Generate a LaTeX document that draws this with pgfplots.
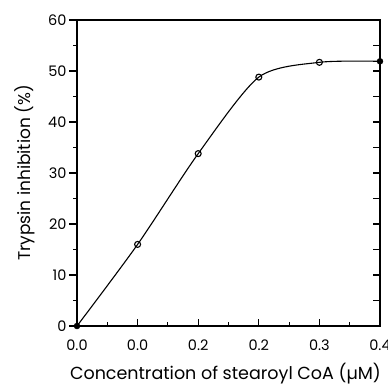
\documentclass[border=0pt]{standalone}
\usepackage{fontspec}
\setmainfont{Poppins}
\usepackage{pgfplots}
\pgfplotsset{compat=1.18}
\begin{document}
\begin{tikzpicture}
\pgfplotsset{
  common/.style={
    scale only axis, width=303pt, height=306pt,
    xmin=0, xmax=5, ymin=0, ymax=60,
    axis line style={line width=1.5pt},
  }
}
\begin{axis}[common,
  font=\fontsize{14.5}{16}\selectfont,
  /pgf/number format/assume math mode=true,
  tick align=outside,
  xtick={0,1,2,3,4,5}, xticklabels={0.0,0.0,0.2,0.2,0.3,0.4},
  x tick style={draw=none},
  xtick pos=lower, ytick pos=left,
  ytick={0,10,...,60}, minor y tick num=1,
  major tick length=8pt, minor tick length=4pt,
  tick style={line width=1.1pt, black},
  xticklabel style={yshift=-2pt},
  yticklabel style={xshift=1pt},
  every axis y label/.style={at={(axis description cs:-0.172,0.5)}, rotate=90, anchor=center, font=\fontsize{17}{19}\selectfont},
  every axis x label/.style={at={(axis description cs:0.49,-0.155)}, anchor=center, font=\fontsize{17.5}{19}\selectfont},
  ylabel={Trypsin inhibition (\%)},
  xlabel={Concentration of stearoyl CoA (µM)},
]
\addplot[black, line width=1.1pt, smooth, tension=0.45] coordinates {
  (0,0) (1,16) (2,33.8) (3,48.8) (4,51.7) (5,51.9)
};
\addplot[only marks, mark=o, mark size=3pt, mark options={line width=1.1pt, fill=white}, black] coordinates {
  (1,16) (2,33.8) (3,48.8) (4,51.7)
};
\addplot[only marks, mark=*, mark size=3pt, black] coordinates {
  (0,0) (5,51.9)
};
\coordinate (bl) at (rel axis cs:0,0);
\coordinate (tr) at (rel axis cs:1,1);
\end{axis}
\begin{axis}[common,
  tick align=inside,
  xtick={0,1,2,3,4,5}, minor x tick num=1,
  ytick={0,5,...,60},
  xtick pos=lower, ytick pos=right,
  xticklabels={}, yticklabels={},
  major tick length=7pt, minor tick length=4pt,
  tick style={line width=1.1pt, black},
]
\end{axis}
\pgfresetboundingbox
\path[use as bounding box] ([shift={(-77pt,-59pt)}]bl) rectangle ([shift={(8pt,20pt)}]tr);
\end{tikzpicture}
\end{document}
